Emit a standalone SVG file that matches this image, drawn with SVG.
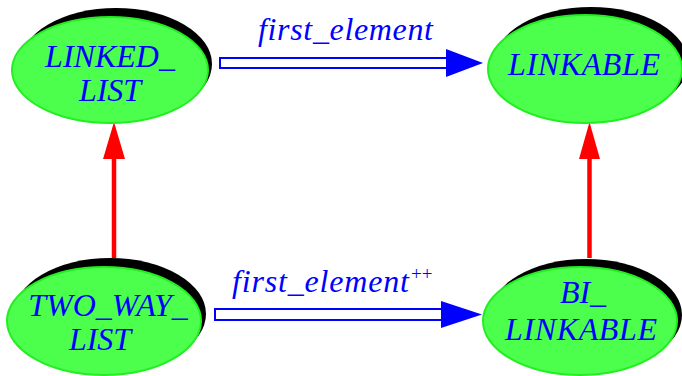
<svg xmlns="http://www.w3.org/2000/svg" width="682" height="376" viewBox="0 0 682 376">
<style>
.sh{fill:#000}
.el{fill:#4cff4c;stroke:#22ee22;stroke-width:2}
.t{font-family:"Liberation Serif",serif;font-style:italic;font-size:32px;fill:#0000ff;text-anchor:middle}
.lb{font-family:"Liberation Serif",serif;font-style:italic;font-size:32px;fill:#0000ff}
.sup{font-family:"Liberation Serif",serif;font-size:19px;fill:#0000ff}
.shaft{fill:#fff;stroke:#0000ff;stroke-width:2}
.head{fill:#0000ff}
.red{stroke:#ff0000;stroke-width:4.5}
.rhead{fill:#ff0000}
</style>
<g id="connectors">
<rect class="shaft" x="220" y="58" width="228" height="10"/>
<polygon class="head" points="446,49 483,63 446,77"/>
<text class="lb" x="258" y="40" textLength="175">first_element</text>
<rect class="shaft" x="215" y="309" width="228" height="11"/>
<polygon class="head" points="441,301 482,314.5 441,328"/>
<text class="lb" x="232" y="292" textLength="177">first_element</text>
<text class="sup" x="411" y="280">++</text>
<line class="red" x1="114" y1="258" x2="114" y2="155"/>
<polygon class="rhead" points="114,122 125,159 103,159"/>
<line class="red" x1="589.5" y1="258" x2="589.5" y2="155"/>
<polygon class="rhead" points="589.5,122 600,159 579,159"/>
</g>
<g id="linked_list">
<ellipse class="sh" cx="116" cy="64" rx="96" ry="56"/>
<ellipse class="el" cx="110" cy="70" rx="98" ry="53"/>
<text class="t" x="110" y="67">LINKED_</text>
<text class="t" x="110" y="101">LIST</text>
</g>
<g id="linkable">
<ellipse class="sh" cx="591" cy="63" rx="97" ry="56"/>
<ellipse class="el" cx="585" cy="69" rx="97" ry="54"/>
<text class="t" x="584" y="75" textLength="152">LINKABLE</text>
</g>
<g id="two_way_list">
<ellipse class="sh" cx="110" cy="314" rx="96" ry="56"/>
<ellipse class="el" cx="104" cy="321" rx="97" ry="54"/>
<text class="t" x="108" y="316">TWO_WAY_</text>
<text class="t" x="100" y="350">LIST</text>
</g>
<g id="bi_linkable">
<ellipse class="sh" cx="586" cy="315" rx="96" ry="56"/>
<ellipse class="el" cx="580" cy="321" rx="97" ry="54"/>
<text class="t" x="583" y="303">BI_</text>
<text class="t" x="581" y="340" textLength="152">LINKABLE</text>
</g>
</svg>
